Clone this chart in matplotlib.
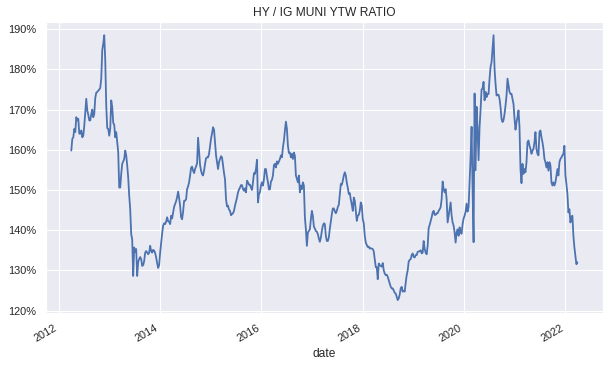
import matplotlib
matplotlib.use("Agg")
import matplotlib.pyplot as plt
import matplotlib.dates as mdates
from matplotlib.ticker import PercentFormatter
import seaborn as sns
import pandas as pd
import numpy as np

# ---- data: HY / IG muni yield-to-worst ratio (%), roughly weekly ----
start_date = "2012-04-01"
end_date = "2022-03-29"

ratio_2012 = [
    159.8, 162.7, 163.1, 165.2, 164.4, 168.1, 167.3, 167.7, 164.0, 164.0,
    164.8, 163.1, 163.5, 166.0, 169.4, 172.7, 169.8, 168.7, 167.3, 167.3,
    168.9, 170.0, 168.1, 168.9, 172.9, 174.2, 174.4, 174.7, 175.0, 175.4,
    177.7, 184.8, 186.4, 188.5, 182.3, 171.0, 165.4, 165.2, 163.5, 165.2,
    172.3, 170.6, 166.7, 166.2, 163.1, 164.4, 161.9, 159.4, 150.6, 150.6,
    154.0, 156.5, 157.1, 157.7, 159.8, 158.6, 156.1, 153.1, 148.6, 145.2,
    139.0, 137.7, 128.6, 135.7, 134.6, 135.3, 128.6, 132.1, 132.8]
ratio_2013 = [
    133.3, 132.8, 131.1, 131.3, 132.3, 134.4, 134.8, 134.4, 134.0, 134.4,
    136.1, 134.8, 134.4, 135.1, 134.9, 134.3, 133.2, 131.8, 130.6, 131.3,
    134.4, 136.9, 139.2, 141.1, 141.7, 141.5, 142.1, 143.2, 142.2, 142.1,
    141.5, 143.6, 142.9, 144.4, 145.8, 146.5, 147.2, 148.2, 149.6, 148.0,
    146.1, 143.2, 142.7, 144.6, 147.3, 147.3, 147.7, 150.2, 150.9, 151.9,
    153.6, 155.5, 155.8, 154.8, 154.2, 155.2, 155.9, 156.6, 163.0, 159.5,
    156.2, 154.8, 153.9, 153.6, 154.8, 156.5, 157.9, 158.1, 158.1, 159.0,
    160.9, 162.8, 164.1, 165.6, 165.0]
ratio_2015 = [
    161.8, 158.6, 156.9, 155.2, 156.9, 157.7, 158.4, 158.1, 156.1, 154.2,
    152.6, 147.7, 145.9, 146.1, 145.1, 144.8, 143.7, 144.0, 144.2, 144.8,
    146.1, 147.1, 148.1, 149.4, 150.1, 150.6, 151.2, 151.2, 150.2, 149.8,
    150.4, 149.4, 152.3, 151.9, 151.3, 151.3, 150.6, 150.0, 151.9, 154.2,
    154.0, 155.2, 157.5, 146.9, 149.0, 149.4, 151.1, 151.9, 151.1, 152.7,
    155.2, 155.2, 153.3, 151.9, 150.1, 150.2, 152.1, 152.5, 153.6, 156.2,
    156.5, 155.6, 157.1, 156.5, 157.1, 157.7, 158.6, 158.1, 160.6, 162.3,
    164.8, 167.0, 165.2, 161.0, 159.2]
ratio_2016 = [
    159.3, 158.1, 159.0, 157.7, 159.3, 158.5, 153.6, 152.7, 151.9, 153.6,
    149.4, 151.1, 150.2, 151.9, 151.1, 143.2, 140.2, 136.1, 139.4, 139.8,
    140.2, 142.7, 144.8, 143.5, 140.9, 140.4, 139.8, 139.6, 139.0, 137.9,
    137.1, 138.1, 139.8, 141.1, 141.7, 141.5, 138.6, 137.3, 137.3, 138.2,
    140.4, 142.1, 144.0, 145.4, 145.4, 144.7, 144.2, 144.8, 145.8, 146.3,
    149.0, 151.5, 151.3, 152.3, 153.6, 154.4, 153.6, 151.8, 150.5, 149.0,
    149.2, 147.6, 146.3, 144.8, 148.1, 147.3, 144.8, 142.3, 143.6, 143.8,
    144.8, 146.9, 146.1, 142.7, 141.7]
ratio_2018 = [
    138.6, 136.9, 136.3, 135.8, 135.9, 135.4, 135.5, 135.4, 135.3, 134.7,
    132.8, 130.8, 130.8, 127.8, 131.7, 131.3, 131.1, 130.9, 131.8, 130.0,
    129.2, 128.8, 128.9, 128.4, 127.5, 126.7, 125.9, 125.5, 125.5, 125.0,
    124.4, 124.2, 123.4, 122.6, 123.0, 124.0, 125.5, 125.9, 124.7, 124.9,
    124.7, 126.9, 128.8, 130.0, 132.2, 132.6, 132.8, 133.8, 134.2, 133.3,
    133.2, 133.8, 133.8, 134.6, 134.7, 134.7, 135.0, 134.2, 134.4, 137.3,
    135.3, 134.4, 134.0, 136.1, 140.5, 141.3, 142.2, 143.2, 144.4, 144.8,
    143.8, 143.8, 144.2, 144.2, 144.8]
ratio_2019 = [
    145.2, 145.7, 147.7, 152.1, 150.2, 149.4, 150.2, 147.7, 141.9, 143.6,
    145.2, 146.9, 143.6, 141.9, 141.1, 139.4, 136.9, 139.4, 140.2, 138.6,
    140.7, 139.4, 139.1, 141.5, 142.9, 143.6, 144.6, 146.6, 144.6, 145.8,
    152.0, 158.2, 165.7, 150.0, 137.0, 174.0, 154.9, 170.7, 165.0, 157.4,
    165.7, 169.9, 175.0, 175.2, 176.9, 172.3, 174.4, 173.1, 173.9, 173.9,
    177.7, 180.6, 181.8, 185.2, 188.5, 180.2, 176.4, 173.5, 173.7, 173.7,
    172.7, 170.6, 167.7, 166.9, 167.4, 168.9, 171.0, 173.5, 177.7, 176.0,
    174.4, 173.9, 173.9, 172.7, 171.4]
ratio_2021 = [
    167.7, 165.0, 166.9, 168.1, 169.8, 165.6, 155.2, 151.7, 156.5, 154.0,
    155.2, 154.4, 156.9, 161.9, 162.3, 161.0, 160.2, 159.0, 159.8, 160.2,
    161.9, 164.4, 160.2, 159.0, 158.6, 164.4, 164.8, 163.1, 161.9, 160.2,
    157.7, 156.9, 155.6, 156.9, 154.8, 156.9, 156.1, 151.9, 151.1, 151.9,
    151.1, 151.9, 153.6, 155.2, 153.6, 156.9, 157.7, 158.1, 158.6, 159.0,
    161.0, 153.6, 151.5, 149.0, 144.4, 145.2, 141.9, 143.2, 143.6, 138.6,
    135.7, 133.6, 131.5, 132.0]

title = "HY / IG MUNI YTW RATIO"
xlabel = "date"

values = (ratio_2012 + ratio_2013 + ratio_2015 + ratio_2016
          + ratio_2018 + ratio_2019 + ratio_2021)
dates = pd.date_range(start_date, end_date, periods=len(values))
series = pd.Series(values, index=dates)

# ---- style ----
sns.set_theme(style="darkgrid", context="notebook")
plt.rcParams["font.family"] = ["Liberation Sans", "DejaVu Sans"]

W, H, DPI = 616, 366, 72
fig = plt.figure(figsize=(W / DPI, H / DPI), dpi=DPI)
ax = fig.add_axes([46 / W, (H - 313.3) / H, (602.7 - 46) / W, (313.3 - 22) / H])

ax.plot(series.index, series.values, color="#4C72B0", linewidth=1.8)

ax.yaxis.set_major_formatter(PercentFormatter(xmax=100, decimals=0))
ax.set_yticks([120, 130, 140, 150, 160, 170, 180, 190])
ax.xaxis.set_major_locator(mdates.YearLocator(2))
ax.xaxis.set_major_formatter(mdates.DateFormatter("%Y"))
for lab in ax.get_xticklabels():
    lab.set_rotation(30)
    lab.set_ha("right")

ax.set_title(title, fontsize=12)
ax.set_xlabel(xlabel, fontsize=12)

fig.savefig("out.png", dpi=DPI)
